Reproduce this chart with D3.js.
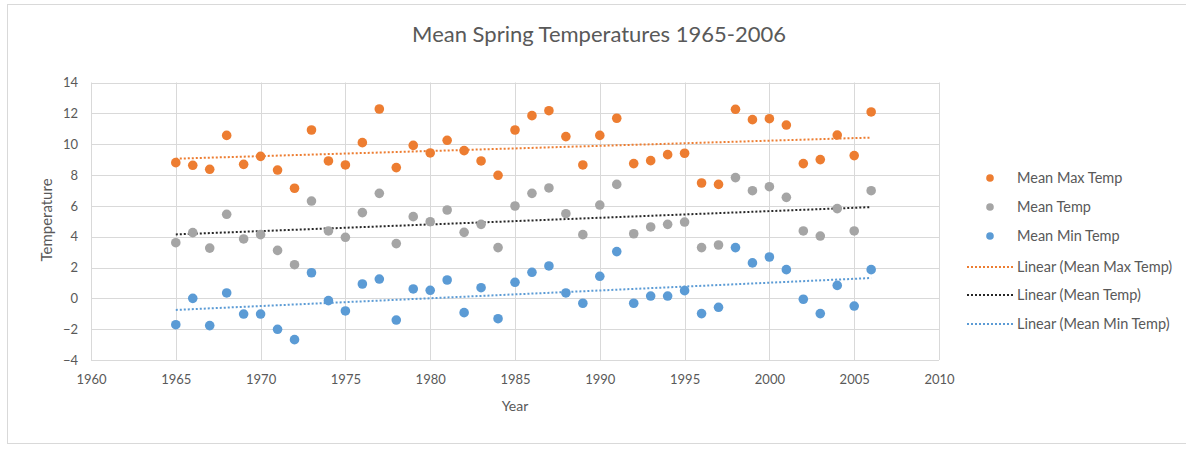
<!DOCTYPE html>
<html>
<head>
<meta charset="utf-8">
<script src="https://cdn.jsdelivr.net/npm/d3@7"></script>
<style>
  html, body { margin: 0; padding: 0; background: #ffffff; }
  svg { display: block; font-family: Lato, "Open Sans", sans-serif; }
</style>
</head>
<body>
<svg id="chart" width="1186" height="450"></svg>
<script>
// Spring temperature records, 1965-2006
const years = d3.range(1965, 2007);
const meanMaxTemp = [8.80, 8.63, 8.37, 10.57, 8.69, 9.21, 8.32, 7.14, 10.92, 8.91,
                     8.65, 10.10, 12.28, 8.48, 9.92, 9.43, 10.25, 9.58, 8.91, 7.98,
                     10.92, 11.85, 12.17, 10.49, 8.65, 10.57, 11.68, 8.74, 8.93, 9.32,
                     9.41, 7.48, 7.39, 12.26, 11.59, 11.65, 11.24, 8.74, 9.00, 10.59,
                     9.26, 12.09];
const meanTemp    = [3.61, 4.26, 3.26, 5.45, 3.85, 4.13, 3.11, 2.18, 6.31, 4.37,
                     3.96, 5.56, 6.81, 3.55, 5.30, 4.97, 5.73, 4.28, 4.80, 3.29,
                     5.99, 6.81, 7.16, 5.49, 4.13, 6.05, 7.39, 4.19, 4.63, 4.80,
                     4.95, 3.29, 3.46, 7.83, 6.98, 7.24, 6.55, 4.37, 4.04, 5.82,
                     4.37, 6.98];
const meanMinTemp = [-1.71, 0.00, -1.77, 0.35, -1.02, -1.02, -2.01, -2.68, 1.66, -0.15,
                     -0.82, 0.93, 1.25, -1.41, 0.61, 0.52, 1.19, -0.93, 0.69, -1.32,
                     1.04, 1.69, 2.10, 0.35, -0.32, 1.43, 3.03, -0.32, 0.15, 0.15,
                     0.50, -0.99, -0.58, 3.29, 2.30, 2.68, 1.86, -0.06, -0.99, 0.84,
                     -0.50, 1.86];

const seriesNames = ["Mean Max Temp", "Mean Temp", "Mean Min Temp"];
const seriesColors = ["#ED7D31", "#A5A5A5", "#5B9BD5"];
const trendColors = ["#ED7D31", "#262626", "#5B9BD5"];
const xTicks = d3.range(1960, 2011, 5);
const yTicks = d3.range(-4, 15, 2);

const chartTitle = "Mean Spring Temperatures 1965-2006";
const xTitle = "Year";
const yTitle = "Temperature";

const series = [meanMaxTemp, meanTemp, meanMinTemp].map((vals, i) => ({
  name: seriesNames[i],
  color: seriesColors[i],
  trendColor: trendColors[i],
  points: vals.map((v, j) => ({ year: years[j], value: v }))
}));

// least-squares trend line for each series
function linearFit(points) {
  const mx = d3.mean(points, d => d.year);
  const my = d3.mean(points, d => d.value);
  const sxy = d3.sum(points, d => (d.year - mx) * (d.value - my));
  const sxx = d3.sum(points, d => (d.year - mx) ** 2);
  const slope = sxy / sxx;
  return x => my + slope * (x - mx);
}

const svg = d3.select("#chart");
const textColor = "#595959";
const gridColor = "#D9D9D9";

// outer chart frame
svg.append("rect")
  .attr("x", 7.5).attr("y", 4.5)
  .attr("width", 1190).attr("height", 439)
  .attr("fill", "none").attr("stroke", "#D9D9D9");

const x = d3.scaleLinear().domain([1960, 2010]).range([91, 939]);
const y = d3.scaleLinear().domain([-4, 14]).range([360, 82.5]);

// gridlines
const grid = svg.append("g");
grid.selectAll("line.h").data(yTicks).join("line")
  .attr("x1", x(1960)).attr("x2", x(2010))
  .attr("y1", d => Math.round(y(d)) + 0.5).attr("y2", d => Math.round(y(d)) + 0.5)
  .attr("stroke", gridColor);
grid.selectAll("line.v").data(xTicks).join("line")
  .attr("y1", y(-4)).attr("y2", y(14))
  .attr("x1", d => Math.round(x(d)) + 0.5).attr("x2", d => Math.round(x(d)) + 0.5)
  .attr("stroke", gridColor);

// axes (labels only, gridlines drawn above)
const xAxis = svg.append("g")
  .attr("transform", `translate(0, ${y(-4)})`)
  .call(d3.axisBottom(x).tickValues(xTicks).tickFormat(d3.format("d")).tickSize(0).tickPadding(15));
const yAxis = svg.append("g")
  .attr("transform", `translate(${x(1960)}, 0)`)
  .call(d3.axisLeft(y).tickValues(yTicks).tickSize(0).tickPadding(13));
[xAxis, yAxis].forEach(g => {
  g.select(".domain").remove();
  g.selectAll("text").attr("fill", textColor).style("font-size", "13px")
    .style("font-family", "Lato, 'Open Sans', sans-serif");
});

// trend lines
series.forEach(s => {
  const f = linearFit(s.points);
  const ext = d3.extent(s.points, d => d.year);
  svg.append("line")
    .attr("x1", x(ext[0])).attr("x2", x(ext[1]))
    .attr("y1", y(f(ext[0]))).attr("y2", y(f(ext[1])))
    .attr("stroke", s.trendColor)
    .attr("stroke-width", 2)
    .attr("stroke-dasharray", "2 2");
});

// scatter points
series.forEach(s => {
  svg.append("g").selectAll("circle").data(s.points).join("circle")
    .attr("cx", d => x(d.year))
    .attr("cy", d => y(d.value))
    .attr("r", 4.8)
    .attr("fill", s.color);
});

// titles
svg.append("text")
  .attr("x", 599).attr("y", 42)
  .attr("text-anchor", "middle")
  .attr("fill", textColor)
  .style("font-size", "22px")
  .text(chartTitle);
svg.append("text")
  .attr("x", 515).attr("y", 411)
  .attr("text-anchor", "middle")
  .attr("fill", textColor)
  .style("font-size", "14px")
  .text(xTitle);
svg.append("text")
  .attr("transform", "translate(52, 220) rotate(-90)")
  .attr("text-anchor", "middle")
  .attr("fill", textColor)
  .style("font-size", "15px")
  .text(yTitle);

// legend
const legend = svg.append("g");
const markerRowY = [178, 207, 236];
const lineRowY = [267, 295, 324];
series.forEach((s, i) => {
  legend.append("circle")
    .attr("cx", 990).attr("cy", markerRowY[i]).attr("r", 3.8)
    .attr("fill", s.color);
  legend.append("text")
    .attr("x", 1017).attr("y", markerRowY[i])
    .attr("dy", "0.35em")
    .attr("fill", textColor)
    .style("font-size", "14.5px")
    .text(s.name);
  legend.append("line")
    .attr("x1", 967).attr("x2", 1013)
    .attr("y1", lineRowY[i]).attr("y2", lineRowY[i])
    .attr("stroke", s.trendColor)
    .attr("stroke-width", 2)
    .attr("stroke-dasharray", "2 2");
  legend.append("text")
    .attr("x", 1017).attr("y", lineRowY[i])
    .attr("dy", "0.35em")
    .attr("fill", textColor)
    .style("font-size", "14.5px")
    .text(`Linear (${s.name})`);
});
</script>
</body>
</html>
